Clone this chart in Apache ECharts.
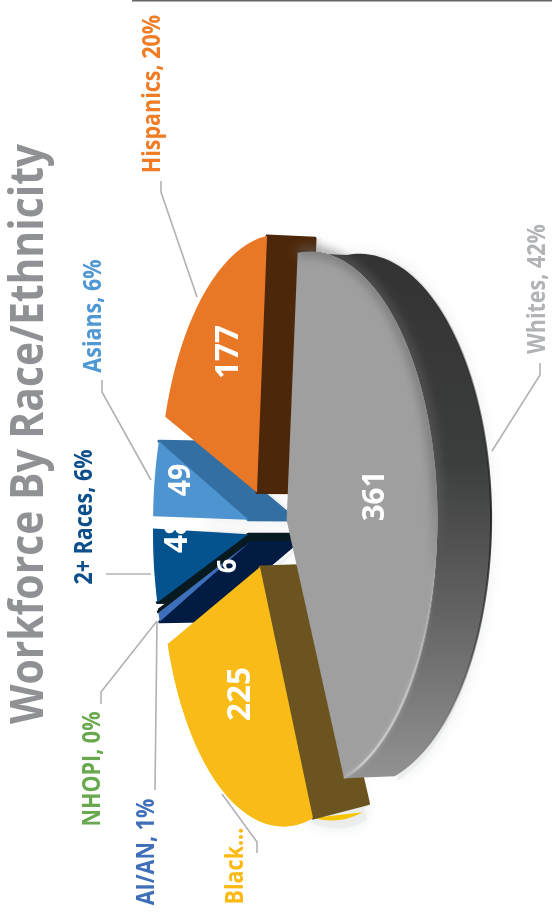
<!DOCTYPE html>
<html>
<head>
<meta charset="utf-8">
<title>Workforce By Race/Ethnicity</title>
<script src="https://cdn.jsdelivr.net/npm/echarts@6/dist/echarts.min.js"></script>
<style>
html,body{margin:0;padding:0;background:#fff}
#chart{width:552px;height:915px}
</style>
</head>
<body>
<div id="chart"></div>
<script>
// Workforce head counts, clockwise from the Whites slice
const categories = ['Whites', 'Blacks', 'AI/AN', 'NHOPI', '2+ Races', 'Asians', 'Hispanics'];
const headcounts = [361, 225, 6, 2, 48, 49, 177];
const sliceLabels = ['Whites, 42%', 'Black...', 'AI/AN, 1%', 'NHOPI, 0%', '2+ Races, 6%', 'Asians, 6%', 'Hispanics, 20%'];
const valueLabels = ['361', '225', '', '', '48', '49', '177'];
const chartTitle = 'Workforce By Race/Ethnicity';

// Look of each slice: face, radial wall, optional outer rim, paint order, caption colour and placement
const looks = {
  'Whites':    {face:'#9f9f9f', wall:'#6a6a6a', z:70, tilt:0.008, rimTilt:0.008, deep:1,    text:'#b1b3b6', at:[538,289], line:[[540,363],[540,375],[492,451]], size:31, lab:[375,496]},
  'Blacks':    {face:'#f8bb17', wall:'#6b5420', rim:'#f7c500', z:60, tilt:0.05, rimTilt:0.02, deep:1.12, text:'#fdb913', at:[236,866], line:[[257,853],[257,842],[222,794]], size:33, lab:[241,694]},
  'AI/AN':     {face:'#3d6fbb', wall:'#021b42', z:40, tilt:0.008, deep:1, text:'#3e6fb8', at:[147,852], line:[[155,790],[157,622]], size:27, lab:[228,566], own:'6'},
  'NHOPI':     {face:'#0a1a1e', wall:'#0a1a1e', z:30, tilt:0.008, deep:1, text:'#6aa84f', at:[93,769],  line:[[101,704],[101,692],[157,621]], size:27, lab:[0,0]},
  '2+ Races':  {face:'#04538e', wall:'#071a22', z:20, tilt:0.008, deep:1, text:'#0c4f8a', at:[85,517],  line:[[106,574],[151,574]], size:33, lab:[178,535]},
  'Asians':    {face:'#4e94d1', wall:'#336fa3', z:10, tilt:0.008, deep:1, text:'#4f98d4', at:[94,316],  line:[[102,380],[102,392],[151,480]], size:30, lab:[181,480]},
  'Hispanics': {face:'#e97826', wall:'#4d2709', z:50, tilt:0.008, deep:1, text:'#f07c25', at:[153,94],  line:[[161,181],[161,192],[197,297]], size:33, lab:[229,352]}
};

// Tilted-disc projection of the unit pie onto the page
const pie = {cx:267, cy:528, a:117.5, b:257, k:0.171, explode:0.165, startDeg:-85, depth:48};
const RIGHT_ANGLE = Math.PI / 2;
const FONT = '"Open Sans","Noto Sans",sans-serif';
const OFFSTAGE = 1000;

function project(wx, wy) {
  const s = 1 / (1 - pie.k * wx);
  return {x: pie.cx + pie.a * wx * s, y: pie.cy + pie.b * wy * s, s: s};
}
function extrude(p, tilt, deep) {
  return [p.x + pie.depth * deep * Math.sqrt(p.s), p.y + (pie.cy - p.y) * tilt];
}

const total = headcounts.reduce((sum, v) => sum + v, 0);
function sweep(index) {
  let from = pie.startDeg;
  for (let i = 0; i < index; i++) from += headcounts[i] / total * 360;
  const to = from + headcounts[index] / total * 360;
  return [from, to];
}
function wedge(index) {
  const [from, to] = sweep(index);
  const mid = (from + to) / 2 * Math.PI / 180;
  const ox = pie.explode * Math.cos(mid);
  const oy = pie.explode * Math.sin(mid);
  const arc = [];
  const steps = Math.max(2, Math.ceil((to - from) / 2));
  for (let i = 0; i <= steps; i++) {
    const t = (from + (to - from) * i / steps) * Math.PI / 180;
    arc.push(project(ox + Math.cos(t), oy + Math.sin(t)));
  }
  return {apex: project(ox, oy), arc: arc};
}
const xy = p => [p.x, p.y];

// A radial wall shows only when the extrusion direction points away from the face;
// an edge running along that direction has no visible wall at all
function wallFacesViewer(apex, end, other) {
  const ex = end.x - apex.x, ey = end.y - apex.y;
  if (Math.abs(ey) < 0.15 * Math.abs(ex)) return false;
  const towardFace = ex * (other.y - apex.y) - ey * (other.x - apex.x);
  const towardDepth = -ey;
  return towardFace * towardDepth < 0;
}

function captionText(str, x, y, size, fill, weight, squeeze, z2) {
  return {
    type: 'text', x: x, y: y, rotation: RIGHT_ANGLE, scaleX: squeeze, scaleY: 1, z2: z2,
    style: {text: str, fill: fill, font: weight + ' ' + size + 'px ' + FONT, align: 'center', verticalAlign: 'middle'}
  };
}

function renderSlice(params) {
  const i = params.dataIndex;
  const look = looks[categories[i]];
  const w = wedge(i);
  const facePts = [xy(w.apex)].concat(w.arc.map(xy));
  const kids = [];
  const z = look.z;
  const lift = p => extrude(p, look.tilt, look.deep);
  const liftRim = p => extrude(p, look.rimTilt, 1);
  const isWhites = categories[i] === 'Whites';

  // soft ground shadow thrown by the slice
  kids.push({
    type: 'polygon', z2: 1,
    shape: {points: facePts.map(p => [p[0] + pie.depth + 6, p[1] + 2])},
    style: {fill: 'rgba(233,235,235,0.75)', shadowBlur: 14, shadowColor: 'rgba(226,228,228,0.9)'}
  });

  // radial walls on the visible side
  const first = w.arc[0], last = w.arc[w.arc.length - 1];
  [[first, last], [last, first]].forEach(pair => {
    if (isWhites || !wallFacesViewer(w.apex, pair[0], pair[1])) return;
    kids.push({
      type: 'polygon', z2: z,
      shape: {points: [xy(w.apex), xy(pair[0]), lift(pair[0]), lift(w.apex)]},
      style: {fill: look.wall, stroke: look.wall, lineWidth: 3, lineJoin: 'round'}
    });
  });

  // outer rim
  if (isWhites || look.rim) {
    const rimPts = w.arc.map(xy).concat(w.arc.slice().reverse().map(liftRim));
    kids.push({
      type: 'polygon', z2: isWhites ? z + 1 : z - 1,
      shape: {points: rimPts},
      style: {
        fill: isWhites ? new echarts.graphic.LinearGradient(0, 0, 0, 1, [
          {offset: 0, color: '#333333'}, {offset: 0.4, color: '#3c3d3d'},
          {offset: 0.7, color: '#656565'}, {offset: 1, color: '#929292'}
        ]) : look.rim
      }
    });
  }
  if (isWhites) {
    kids.push({
      type: 'polyline', z2: z + 2,
      shape: {points: w.arc.map(liftRim)},
      style: {fill: 'none', lineWidth: 2, stroke: new echarts.graphic.LinearGradient(0, 0, 0, 1, [
        {offset: 0, color: 'rgba(40,40,40,0)'}, {offset: 0.5, color: 'rgba(30,30,30,0.9)'},
        {offset: 0.75, color: 'rgba(40,40,40,0.6)'}, {offset: 1, color: 'rgba(90,90,90,0)'}
      ])}
    });
  }

  // top face
  kids.push({
    type: 'polygon', z2: z + 3,
    shape: {points: facePts},
    style: {fill: look.face}
  });
  if (isWhites) {
    // blurred edge where the face meets the dark upper rim: only the shadow lands on the page
    kids.push({
      type: 'polyline', z2: z + 4,
      shape: {points: w.arc.map(p => [p.x - OFFSTAGE, p.y])},
      style: {fill: 'none', lineWidth: 6, shadowBlur: 11, shadowOffsetX: OFFSTAGE, shadowColor: 'rgba(100,100,100,1)',
        stroke: new echarts.graphic.LinearGradient(0, 0, 0, 1, [
          {offset: 0, color: 'rgba(100,100,100,1)'}, {offset: 0.45, color: 'rgba(100,100,100,1)'},
          {offset: 0.62, color: 'rgba(130,130,130,0)'}, {offset: 1, color: 'rgba(130,130,130,0)'}
        ])}
    });
    // lit bevel along the near edge
    kids.push({
      type: 'polyline', z2: z + 5,
      shape: {points: w.arc.map(xy)},
      style: {fill: 'none', lineWidth: 2.5, shadowBlur: 4, shadowColor: 'rgba(235,235,235,0.5)',
        stroke: new echarts.graphic.LinearGradient(0, 0, 0, 1, [
          {offset: 0, color: 'rgba(210,210,210,0)'}, {offset: 0.58, color: 'rgba(210,210,210,0)'},
          {offset: 0.85, color: 'rgba(215,215,215,0.6)'}, {offset: 0.97, color: 'rgba(215,215,215,0.7)'},
          {offset: 1, color: 'rgba(190,190,190,0.3)'}
        ])}
    });
  }

  // leader line and outside caption
  kids.push({
    type: 'polyline', z2: 90,
    shape: {points: look.line},
    style: {fill: 'none', stroke: '#b2b2b6', lineWidth: 1.6}
  });
  kids.push(captionText(sliceLabels[i], look.at[0], look.at[1], 25, look.text, 700, 0.86, 95));

  // value on the slice
  const shown = valueLabels[i] || look.own;
  if (shown) kids.push(captionText(shown, look.lab[0], look.lab[1], look.size, '#ffffff', 700, 0.95, 100));

  return {type: 'group', children: kids};
}

const chart = echarts.init(document.getElementById('chart'), null, {renderer: 'canvas'});
chart.setOption({
  animation: false,
  backgroundColor: '#ffffff',
  graphic: [
    {type: 'rect', shape: {x: 132, y: 0, width: 420, height: 1.5}, style: {fill: '#666666'}},
    {type: 'text', x: 30, y: 434, rotation: RIGHT_ANGLE, scaleX: 0.888,
      style: {text: chartTitle, fill: '#8f9194', font: '700 46px ' + FONT, align: 'center', verticalAlign: 'middle'}}
  ],
  series: [{
    type: 'custom',
    coordinateSystem: 'none',
    silent: true,
    clip: false,
    data: headcounts.map((v, i) => ({name: categories[i], value: [v]})),
    renderItem: renderSlice
  }]
});
</script>
</body>
</html>
